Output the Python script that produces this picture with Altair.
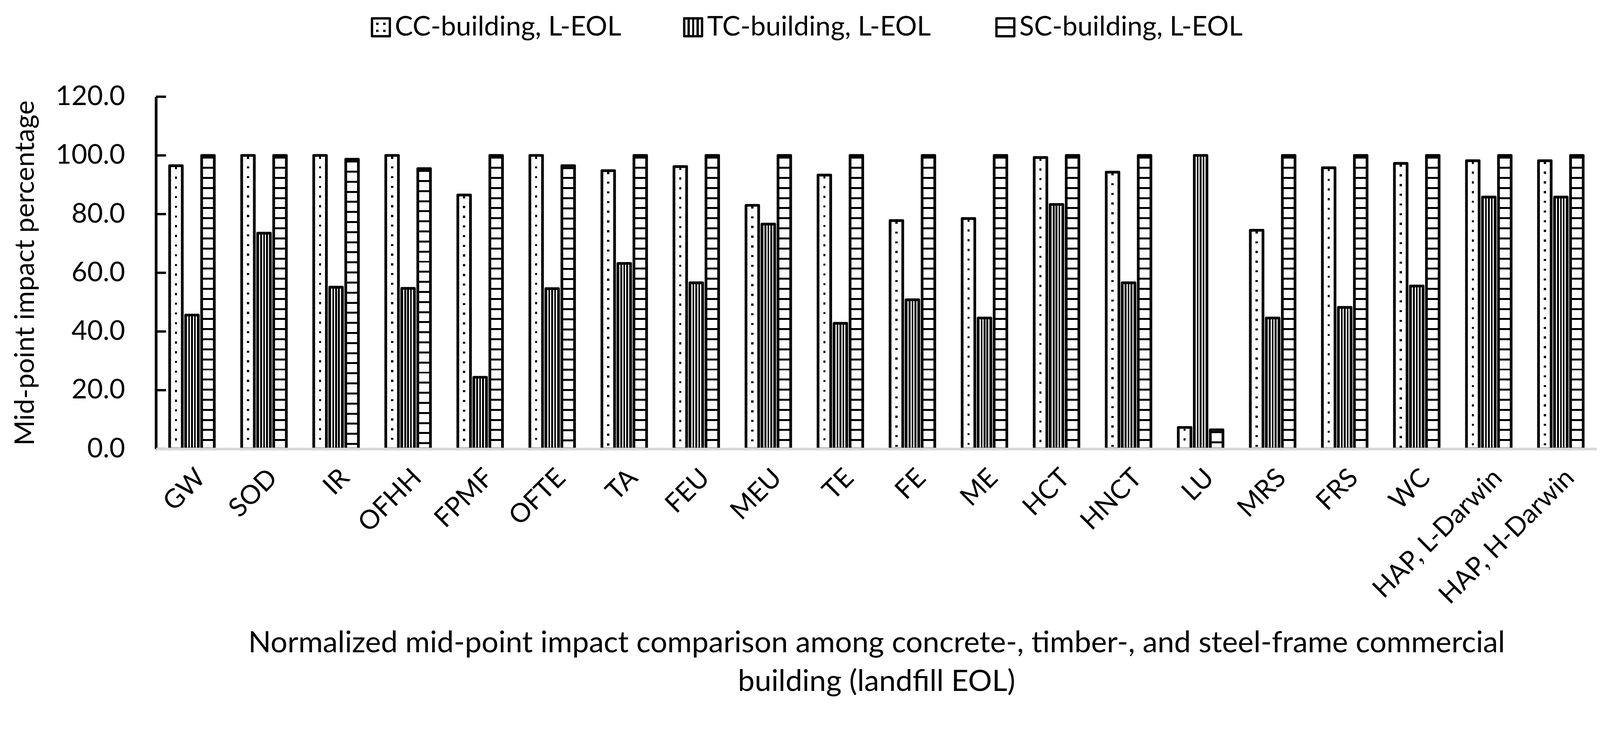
import altair as alt
import pandas as pd

# impact categories on the x axis
categories = ["GW", "SOD", "IR", "OFHH", "FPMF", "OFTE", "TA", "FEU", "MEU", "TE",
              "FE", "ME", "HCT", "HNCT", "LU", "MRS", "FRS", "WC",
              "HAP, L-Darwin", "HAP, H-Darwin"]

series = ["CC-building, L-EOL", "TC-building, L-EOL", "SC-building, L-EOL"]

cc_values = [96.5, 100.0, 100.0, 100.0, 86.5, 100.0, 94.8, 96.2, 83.0, 93.3,
             77.8, 78.5, 99.3, 94.3, 7.3, 74.5, 95.8, 97.3, 98.2, 98.2]
tc_values = [45.6, 73.5, 55.1, 54.7, 24.4, 54.6, 63.2, 56.6, 76.6, 42.8,
             50.8, 44.6, 83.3, 56.6, 100.0, 44.6, 48.2, 55.5, 85.8, 85.8]
sc_values = [100.0, 100.0, 98.7, 95.5, 100.0, 96.5, 100.0, 100.0, 100.0, 100.0,
             100.0, 100.0, 100.0, 100.0, 6.5, 100.0, 100.0, 100.0, 100.0, 100.0]

y_ticks = [0, 20, 40, 60, 80, 100, 120]

x_title = ["Normalized mid-point impact comparison among concrete-, timber-, and steel-frame commercial",
           "building (landfill EOL)"]
y_title = "Mid-point impact percentage"

FONT = "Lato"
PLOT_W = 3715
PLOT_H = 908
PX_PER_UNIT = PLOT_H / 120.0

rows = []
for name, vals in zip(series, [cc_values, tc_values, sc_values]):
    for cat, v in zip(categories, vals):
        rows.append({"category": cat, "series": name, "value": v})
df = pd.DataFrame(rows)
ticks_df = pd.DataFrame({"value": y_ticks})
legend_df = pd.DataFrame({"series": series})


# ---- hatch patterns built as hard-stop linear gradients ----
def stops_from(bands, on, off):
    st = [{"offset": 0.0, "color": off}]
    for a, b in bands:
        a = min(max(a, 0.0), 1.0)
        b = min(max(b, 0.0), 1.0)
        st += [{"offset": a, "color": off}, {"offset": a, "color": on},
               {"offset": b, "color": on}, {"offset": b, "color": off}]
    st.append({"offset": 1.0, "color": off})
    return st


def lin(stops, along_y):
    return {"gradient": "linear", "x1": 0, "y1": 0,
            "x2": 0 if along_y else 1, "y2": 1 if along_y else 0,
            "stops": stops}


def row_bands(value, first, period, thick):
    # horizontal hatch lines with a fixed pixel pitch inside a bar of this value
    h = value * PX_PER_UNIT
    bands = []
    c = first
    while c + thick / 2 <= h - 2:
        bands.append(((c - thick / 2) / h, (c + thick / 2) / h))
        c += period
    return bands


def col_bands(centers, width):
    return [(c - width / 2, c + width / 2) for c in centers]


x_enc = alt.X("category:N", sort=categories,
              scale=alt.Scale(paddingInner=0.38, paddingOuter=0.19),
              axis=alt.Axis(title=x_title, labelAngle=-45, labelFontSize=68,
                            labelPadding=40, labelColor="black", labelFont=FONT,
                            labelLimit=0, labelOverlap=False,
                            ticks=False, tickSize=0, domainColor="#d9d9d9",
                            domainWidth=7, titleFontSize=77, titleFont=FONT,
                            titleFontWeight="normal", titleColor="black",
                            titleY=524, titleBaseline="alphabetic",
                            titleLineHeight=100, zindex=1))
xoff_enc = alt.XOffset("series:N", sort=series,
                       scale=alt.Scale(domain=series, paddingInner=0.21, paddingOuter=0))
y_axis = alt.Axis(title=y_title, values=y_ticks, format=".1f", labelFontSize=70,
                  labelFont=FONT, labelColor="black", labelPadding=80,
                  ticks=False, tickSize=0, domainColor="black", domainWidth=7,
                  grid=False, titleFontSize=70, titleFont=FONT,
                  titleFontWeight="normal", titleColor="black",
                  titleX=-300, titleY=PLOT_H / 2, titleAngle=-90,
                  titleAlign="center", titleBaseline="bottom")
y_enc = alt.Y("value:Q", scale=alt.Scale(domain=[0, 120], nice=False), axis=y_axis)

base = alt.Chart(df).encode(x=x_enc, xOffset=xoff_enc, y=y_enc)
outline = dict(stroke="black", strokeWidth=7, strokeJoin="round")

layers = []
# CC: dotted — rows of dots, then a white mask with a clear centre column
for v in sorted(set(cc_values)):
    layers.append(
        base.transform_filter((alt.datum.series == series[0]) & (alt.datum.value == v))
        .mark_bar(fill=lin(stops_from(row_bands(v, 6, 25, 5.5), "black", "white"), True),
                  strokeWidth=0)
    )
layers.append(
    base.transform_filter(alt.datum.series == series[0])
    .mark_bar(fill=lin(stops_from(col_bands([0.5], 0.17), "transparent", "white"), False),
              **outline)
)
# TC: narrow vertical lines
layers.append(
    base.transform_filter(alt.datum.series == series[1])
    .mark_bar(fill=lin(stops_from(col_bands([0.27, 0.5, 0.73], 0.14), "black", "white"), False),
              **outline)
)
# SC: horizontal lines
for v in sorted(set(sc_values)):
    layers.append(
        base.transform_filter((alt.datum.series == series[2]) & (alt.datum.value == v))
        .mark_bar(fill=lin(stops_from(row_bands(v, 6, 26, 5), "black", "white"), True),
                  **outline)
    )
# inward tick marks on the value axis
layers.append(
    alt.Chart(ticks_df).mark_rule(color="black", strokeWidth=6).encode(
        y=alt.Y("value:Q", scale=alt.Scale(domain=[0, 120], nice=False), axis=y_axis),
        x=alt.value(0), x2=alt.value(26))
)

main = alt.layer(*layers).properties(width=PLOT_W, height=PLOT_H)

# ---- legend row ----
SQ = 46
lx = alt.X("series:N", sort=series,
           scale=alt.Scale(type="point", domain=series, range=[580, 2190], padding=0),
           axis=None)
lbase = alt.Chart(legend_df).encode(x=lx)
sq = dict(shape="square", size=SQ * SQ, opacity=1, stroke="black", strokeWidth=6,
          strokeJoin="round")
legend = alt.layer(
    lbase.transform_filter(alt.datum.series == series[0])
    .mark_point(filled=True, fill=lin(stops_from(col_bands([0.3, 0.7], 0.14), "black", "white"), True),
                shape="square", size=SQ * SQ, opacity=1, strokeWidth=0),
    lbase.transform_filter(alt.datum.series == series[0])
    .mark_point(filled=True, fill=lin(stops_from(col_bands([0.3, 0.7], 0.14), "transparent", "white"), False),
                **sq),
    lbase.transform_filter(alt.datum.series == series[1])
    .mark_point(filled=True, fill=lin(stops_from(col_bands([0.25, 0.5, 0.75], 0.12), "black", "white"), False),
                **sq),
    lbase.transform_filter(alt.datum.series == series[2])
    .mark_point(filled=True, fill=lin(stops_from(col_bands([0.5], 0.13), "black", "white"), True),
                **sq),
    lbase.mark_text(align="left", baseline="middle", dx=36, fontSize=70, font=FONT,
                    color="black").encode(text="series:N"),
).properties(width=3700, height=112)

chart = alt.vconcat(legend, main, spacing=88).properties(
    padding={"left": 22, "top": 0, "right": 0, "bottom": 0}, background="white"
).configure(font=FONT).configure_view(strokeWidth=0, stroke="white")

chart.save("out.html", embed_options={"renderer": "svg", "actions": False})
